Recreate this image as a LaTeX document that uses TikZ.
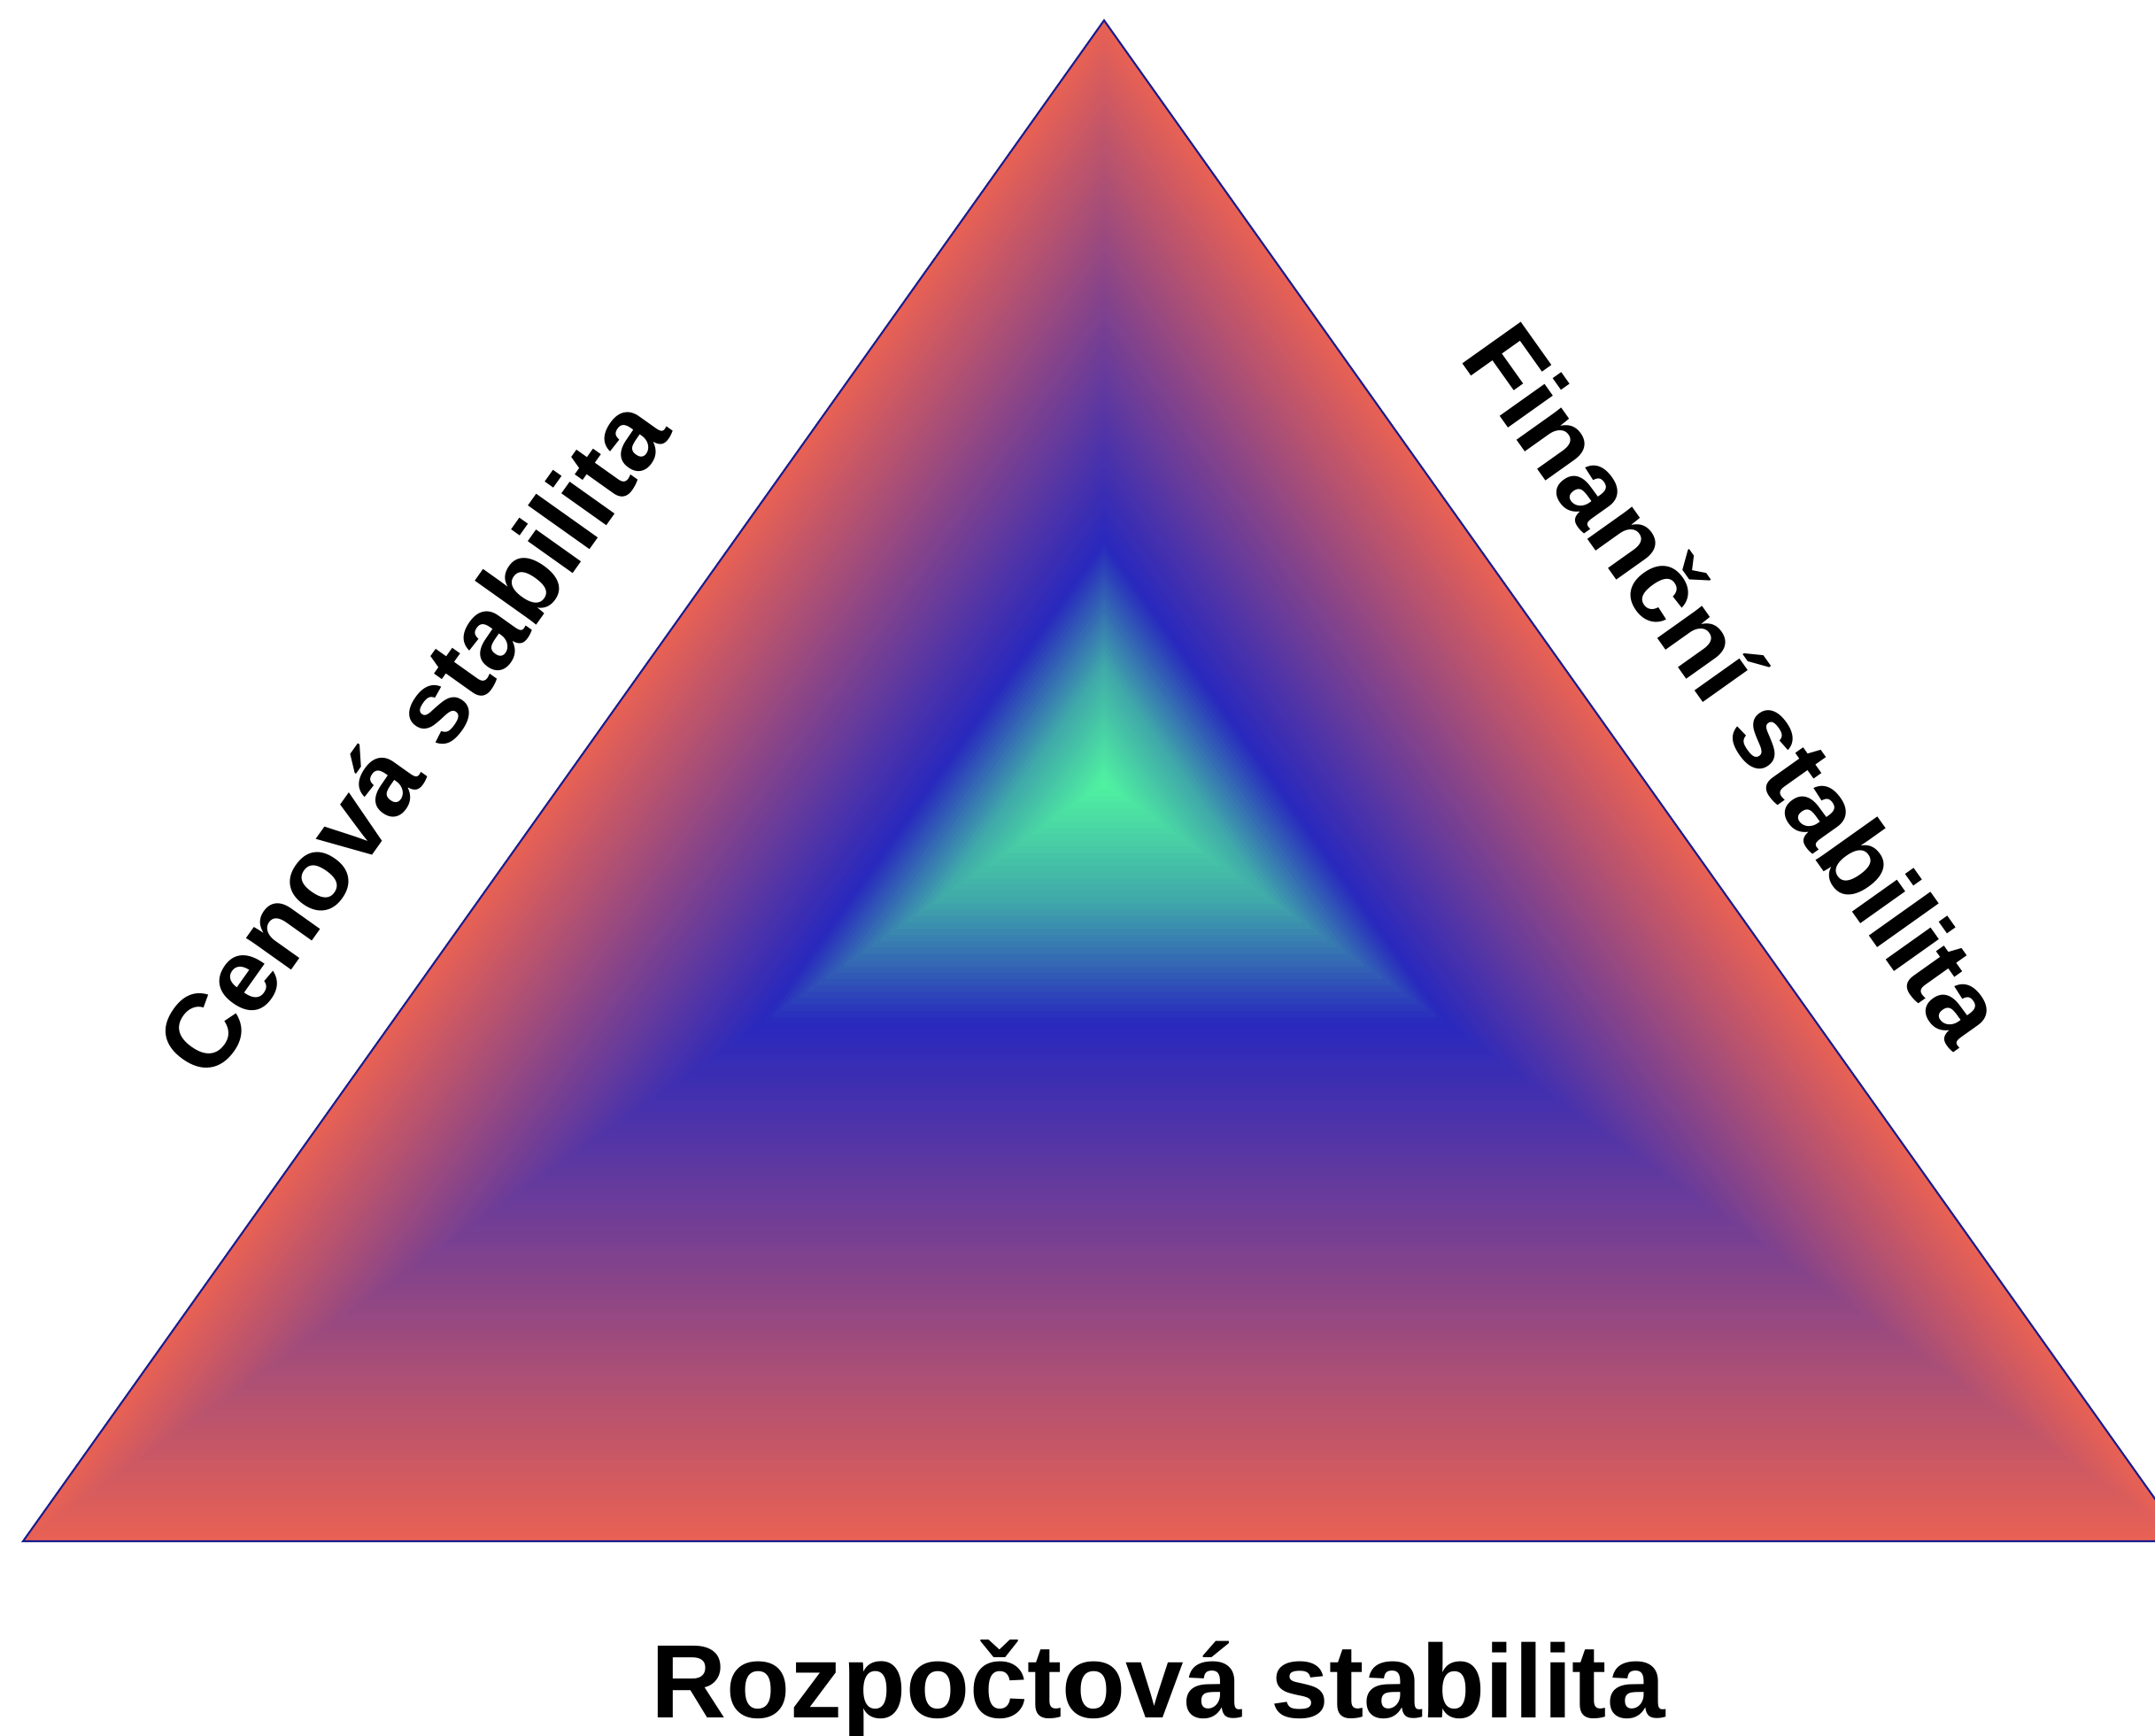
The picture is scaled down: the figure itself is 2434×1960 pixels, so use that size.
\documentclass[tikz,border=0pt]{standalone}
\usepackage{fontspec}
\setmainfont{Liberation Sans}
\usetikzlibrary{calc}
\definecolor{edgered}{RGB}{232,97,84}
\definecolor{midblue}{RGB}{40,40,190}
\definecolor{tealmid}{RGB}{64,168,170}
\definecolor{coregreen}{RGB}{80,245,160}
\definecolor{edgenavy}{RGB}{28,28,140}
\begin{document}
\begin{tikzpicture}[x=0.01cm,y=-0.01cm,
lbl/.style={font=\fontsize{33.5}{40}\selectfont\bfseries, inner sep=0pt},
triedge/.style={draw=edgenavy, line width=0.6pt, line join=miter}]
\useasboundingbox (0,0) rectangle (2434,1960);
\coordinate (top) at (1247,23);
\coordinate (bl) at (26,1741);
\coordinate (br) at (2468,1741);
\coordinate (ctr) at (1247,885);
% nested triangles for the shading
\foreach \i in {0,...,119}{
  \pgfmathsetmacro\s{1-\i/120}
  \ifdim\s pt<0.16pt
    \pgfmathsetmacro\p{100*(0.16-\s)/0.16}
    \colorlet{shd}{coregreen!\p!tealmid}
  \else\ifdim\s pt<0.32pt
    \pgfmathsetmacro\p{100*(0.32-\s)/0.16}
    \colorlet{shd}{tealmid!\p!midblue}
  \else
    \pgfmathsetmacro\p{100*(1-\s)/0.68}
    \colorlet{shd}{midblue!\p!edgered}
  \fi\fi
  \fill[shd] ($(ctr)!\s!(top)$) -- ($(ctr)!\s!(bl)$) -- ($(ctr)!\s!(br)$) -- cycle;
}
\draw[triedge] (top) -- (bl) -- (br) -- cycle;
\node[lbl, rotate=54.6] (cenova) at (464,832) {Cenová stabilita};
\node[lbl, rotate=-54.6] (financni) at (1962,772) {Finanční stabilita};
\node[lbl, anchor=base] (rozpoctova) at (1308,1940) {Rozpočtová stabilita};
\end{tikzpicture}
\end{document}
